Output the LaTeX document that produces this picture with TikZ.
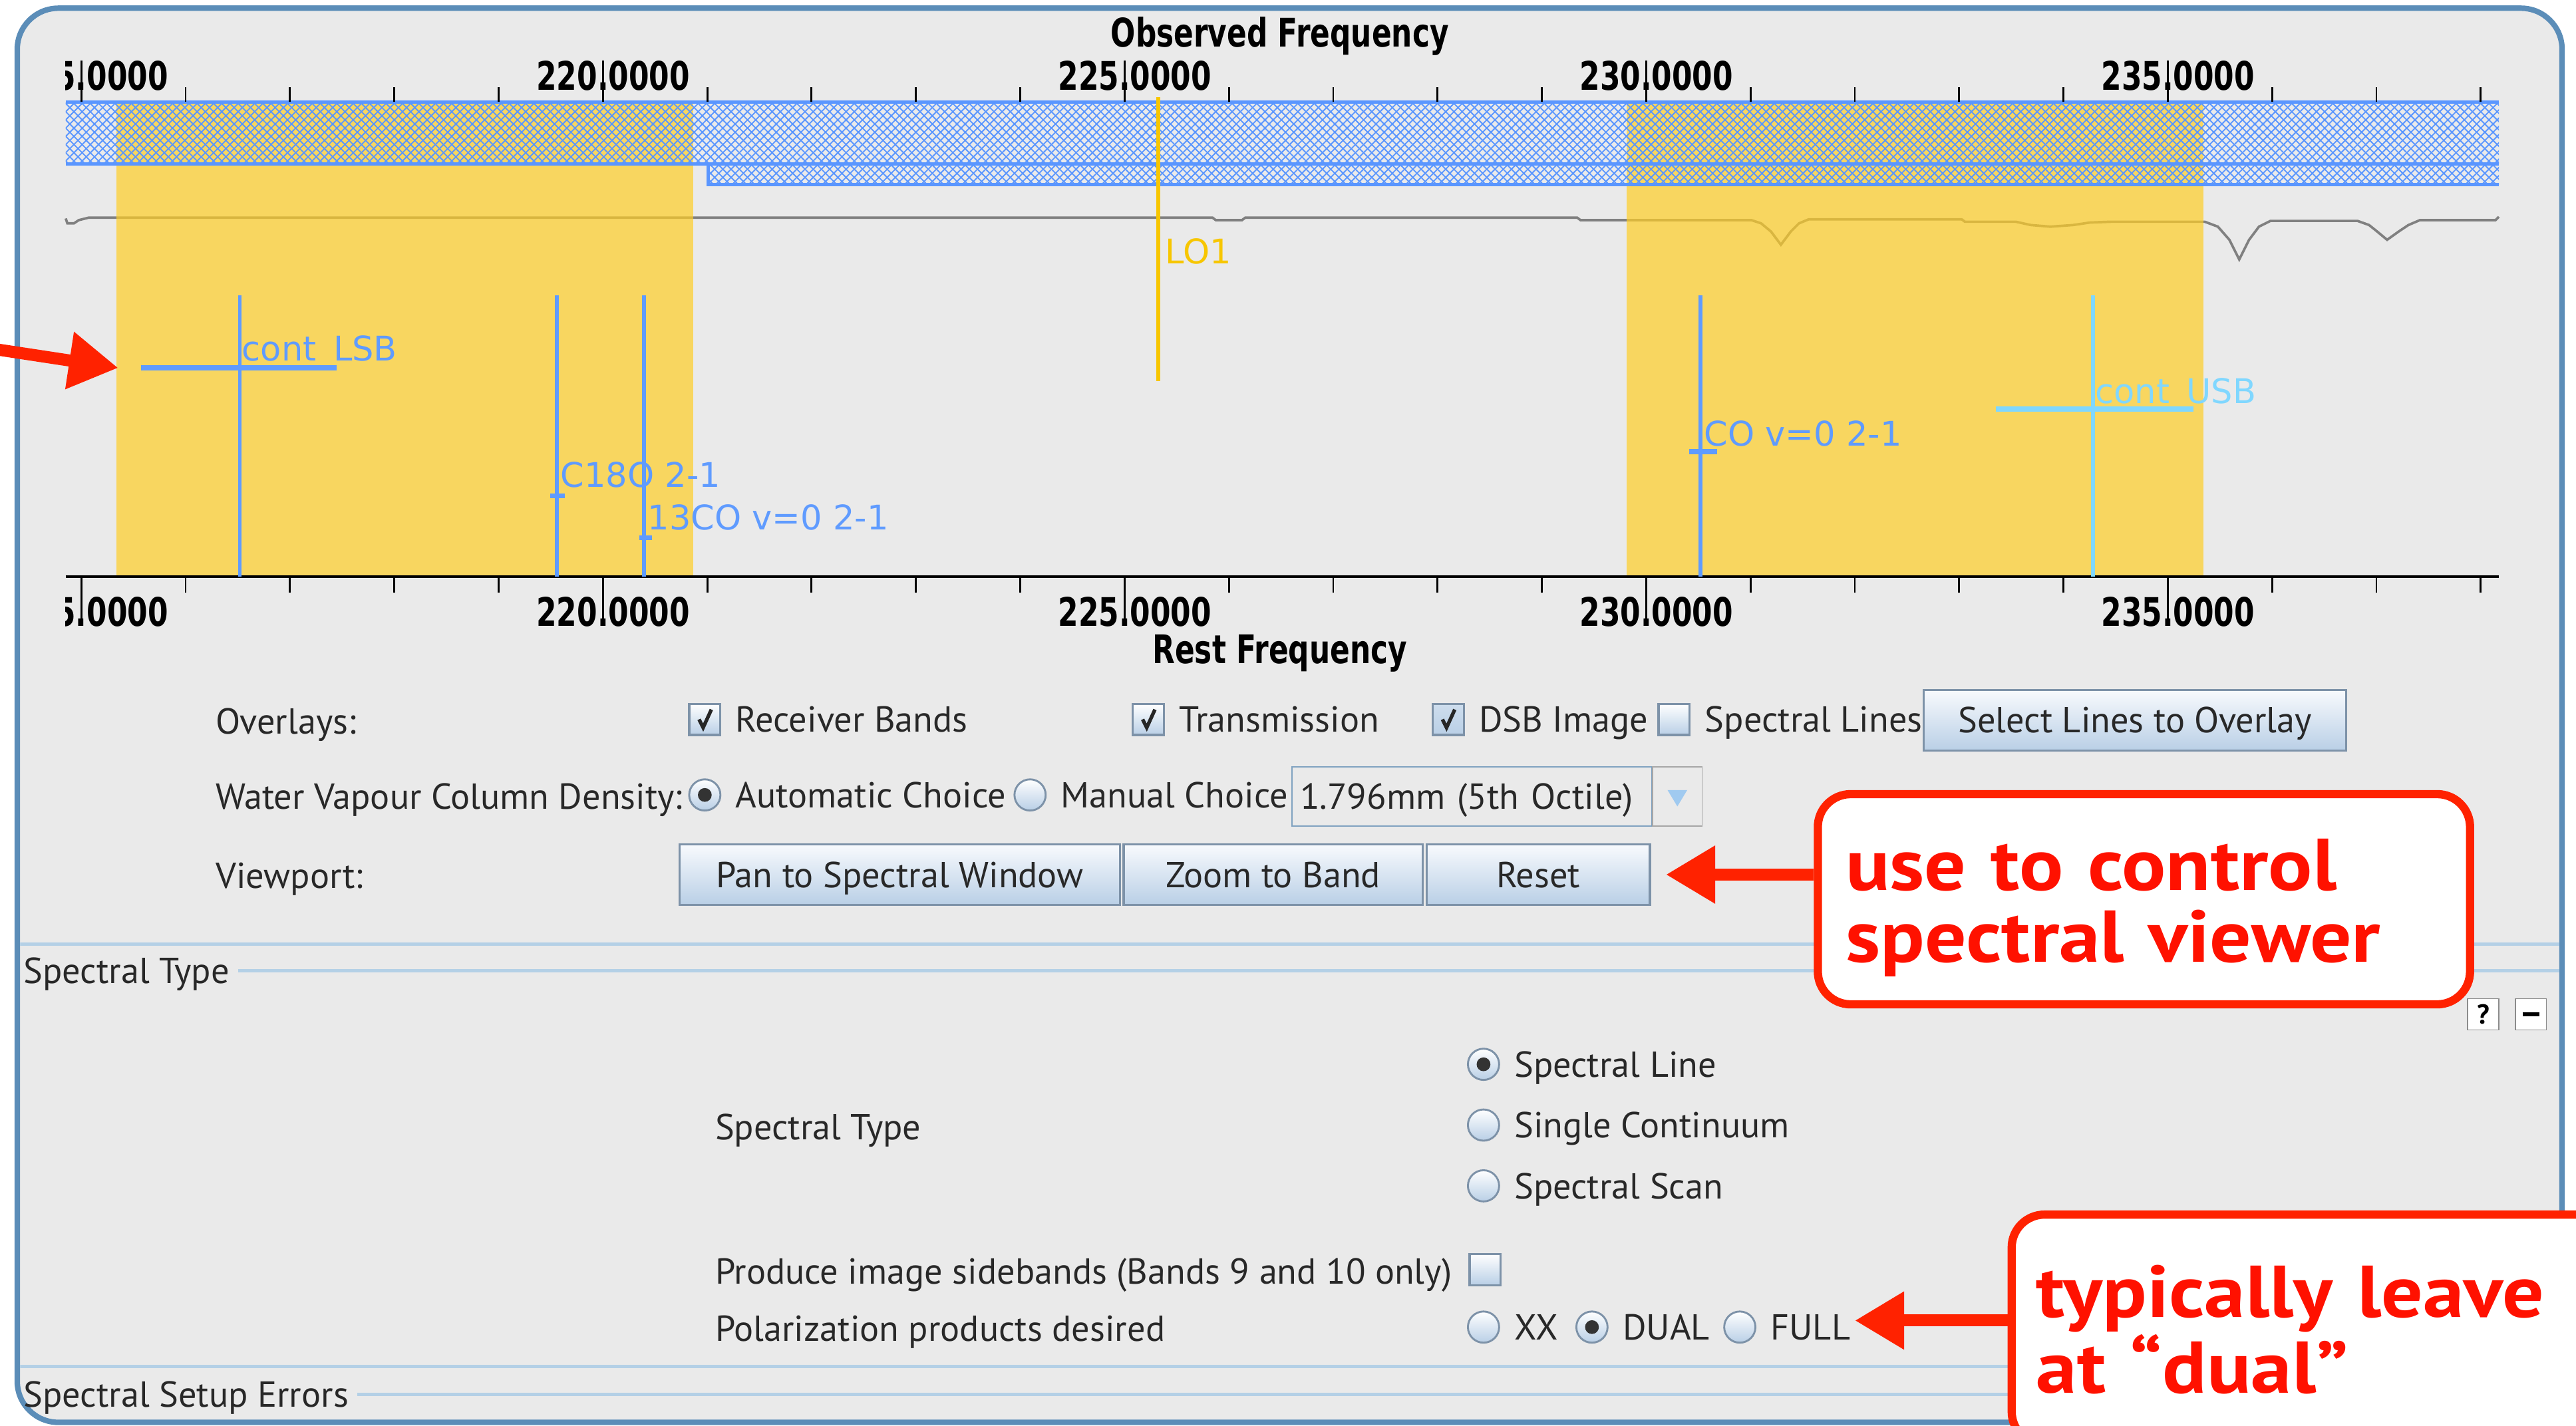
\documentclass[tikz,border=0pt]{standalone}
\usepackage{fontspec}
\setmainfont{PT Sans}
\newfontfamily\axisfont{DejaVu Sans}[FakeStretch=0.74]
\newfontfamily\linefont{DejaVu Sans}
\newfontfamily\notefont{PT Sans}[FakeStretch=1.12]
\usetikzlibrary{arrows.meta,patterns.meta,positioning}

\definecolor{paneGray}{RGB}{234,234,234}
\definecolor{frameBlue}{RGB}{91,141,184}
\definecolor{winYellow}{RGB}{255,206,38}
\definecolor{hatchBlue}{RGB}{90,150,255}
\definecolor{lineBlue}{RGB}{95,155,255}
\definecolor{usbCyan}{RGB}{128,215,255}
\definecolor{loGold}{RGB}{247,198,0}
\definecolor{curveGray}{RGB}{128,128,128}
\definecolor{sepBlue}{RGB}{180,208,230}
\definecolor{btnEdge}{RGB}{125,146,168}
\definecolor{btnTop}{RGB}{248,250,253}
\definecolor{btnBottom}{RGB}{185,207,230}
\definecolor{dropBlue}{RGB}{160,202,240}
\definecolor{noteRed}{RGB}{255,34,0}
\definecolor{noteText}{RGB}{255,17,0}
\definecolor{uiText}{RGB}{40,40,40}

\tikzdeclarepattern{
  name=bandhatch,
  type=uncolored,
  bottom left={(-.3pt,-.3pt)},
  top right={(3.3pt,3.3pt)},
  tile size={(3pt,3pt)},
  code={\draw[line width=.45pt] (0,0) -- (3pt,3pt) (0,3pt) -- (3pt,0);}
}

\tikzset{
  axislabel/.style={font=\axisfont\fontsize{14.4}{16}\selectfont\bfseries, inner sep=0pt, text height=10.5pt, text depth=0pt},
  linelabel/.style={font=\linefont\fontsize{12.4}{14}\selectfont, inner sep=0pt, anchor=west, text height=9pt, text depth=0pt},
  axistick/.style={black, line width=0.7pt},
  specline/.style={draw=lineBlue, line width=1.3pt},
  uitext/.style={font=\fontsize{13.2}{15}\selectfont, text=uiText, inner sep=0pt, anchor=west, text height=9.3pt, text depth=0pt},
  checkbox/.style={rectangle, draw=btnEdge, line width=0.8pt, top color=white, bottom color=btnBottom, minimum size=11.4pt, inner sep=0pt},
  radio/.style={circle, draw=btnEdge, line width=0.7pt, top color=white, bottom color=btnBottom, minimum size=11.4pt, inner sep=0pt},
  checkmark/.style={draw=black!85, line width=1.3pt},
  radiodot/.style={fill=black!80},
  uibutton/.style={rectangle, draw=btnEdge, line width=0.8pt, top color=btnTop, bottom color=btnBottom, inner sep=0pt, minimum height=22.2pt, font=\fontsize{13.2}{15}\selectfont, text=uiText, text height=9.3pt, text depth=0pt},
  smallbtn/.style={rectangle, draw=black!45, fill=white, minimum size=11.4pt, inner sep=0pt, font=\bfseries\fontsize{10}{12}\selectfont},
  sepline/.style={draw=sepBlue, line width=1.2pt},
  noteBox/.style={draw=noteRed, line width=3pt, fill=white, rounded corners=12pt, align=left, text=noteText, inner ysep=0pt, font=\notefont\fontsize{26.8}{26.1}\selectfont\bfseries},
  noteArrow/.style={draw=noteRed, line width=4.4pt, -{Triangle[length=18pt,width=20pt]}}
}

\begin{document}
\begin{tikzpicture}[x=0.6pt,y=0.6pt,yscale=-1]
\useasboundingbox (0,0) rectangle (1568,868);
\fill[white] (0,0) rectangle (1568,868);

% Frame
\draw[frameBlue, line width=2pt, fill=paneGray, rounded corners=15pt] (10.5,5) rectangle (1559.5,866);

% Transmission curve
\draw[curveGray, line width=0.9pt] plot coordinates {(40,133) (41,136) (45,136) (48,134) (54,132.5) (738,132.5) (740,134) (756,134) (758,132.5) (960,132.5) (962,134) (1066,134) (1072,136) (1078,141) (1084,149) (1090,141) (1095,136) (1101,133.5) (1194,133.5) (1196,135) (1227,135) (1236,137) (1248,138) (1262,137) (1272,135.5) (1285,135) (1342,135) (1350,138) (1357,146) (1363,158) (1369,146) (1375,138) (1382,134.5) (1435,134.5) (1442,137) (1447,141) (1453,146) (1460,141) (1466,137) (1473,134) (1519,134) (1521,132)};

% Spectral windows
\fill[winYellow, fill opacity=0.7] (71,62) rectangle (422,351);
\fill[winYellow, fill opacity=0.7] (990,62) rectangle (1341,351);

% Receiver band and image band
\fill[pattern=bandhatch, pattern color=hatchBlue] (40,62) rectangle (1521,100);
\fill[pattern=bandhatch, pattern color=hatchBlue] (431,100) rectangle (1521,112.5);
\draw[hatchBlue, line width=1.2pt] (40,62) -- (1521,62) (40,100) -- (1521,100);
\draw[hatchBlue, line width=1.2pt] (431,100) -- (431,112.5) -- (1521,112.5);

% Axis labels
\begin{scope}
\clip (40,0) rectangle (1530,420);
\foreach \f in {215,220,...,235} {
  \node[axislabel] (obs\f) at ({373.2+63.5*(\f-220)},46) {\f.0000};
  \node[axislabel] (rest\f) at ({373.2+63.5*(\f-220)},372.5) {\f.0000};
}
\end{scope}
\node[axislabel] (obsTitle) at (779,20) {Observed Frequency};
\node[axislabel] (restTitle) at (779,395) {Rest Frequency};

% Ticks
\foreach \f in {215,...,238} {
  \draw[axistick] ({367+63.5*(\f-220)},62) -- ++(0,-9);
  \draw[axistick] ({367+63.5*(\f-220)},352) -- ++(0,9);
}
\foreach \f in {215,220,...,235} {
  \draw[axistick] ({367+63.5*(\f-220)},62) -- ++(0,-25);
  \draw[axistick] ({367+63.5*(\f-220)},352) -- ++(0,27);
}
\draw[black, line width=1pt] (40,351) -- (1521,351);

% Spectral lines
\draw[specline] (146,180) -- (146,351);
\draw[specline, line width=1.8pt] (86,224) -- (205,224);
\node[linelabel, text=lineBlue] (lsbLbl) at (147,212) {cont\_LSB};
\draw[specline] (339,180) -- (339,351);
\draw[specline, line width=1.8pt] (335,302) -- (344,302);
\node[linelabel, text=lineBlue] (c18oLbl) at (341,289) {C18O 2-1};
\draw[specline] (392,180) -- (392,351);
\draw[specline, line width=1.8pt] (389,327.5) -- (397,327.5);
\node[linelabel, text=lineBlue] (co13Lbl) at (394,315) {13CO v=0 2-1};
\draw[specline] (1035,180) -- (1035,351);
\draw[specline, line width=1.8pt] (1028,275) -- (1045,275);
\node[linelabel, text=lineBlue] (coLbl) at (1037,264) {CO v=0 2-1};
\draw[specline, usbCyan] (1274,180) -- (1274,351);
\draw[specline, usbCyan, line width=1.8pt] (1215,249) -- (1335,249);
\node[linelabel, text=usbCyan] (usbLbl) at (1275,238) {cont\_USB};
\draw[loGold, line width=1.5pt] (705,59) -- (705,232);
\node[linelabel, text=loGold] (loLbl) at (709,153) {LO1};

% Overlays row
\node[uitext] (overlaysLbl) at (131,439) {Overlays:};
\node[checkbox] (rcvBox) at (429,438) {};
\node[uitext, right=5pt of rcvBox] (rcvLbl) {Receiver Bands};
\node[checkbox] (transBox) at (699,438) {};
\node[uitext, right=5pt of transBox] (transLbl) {Transmission};
\node[checkbox, top color=btnBottom!70] (dsbBox) at (881.5,438) {};
\node[uitext, right=5pt of dsbBox] (dsbLbl) {DSB Image};
\node[checkbox] (linesBox) at (1019,438) {};
\node[uitext, right=5pt of linesBox] (linesLbl) {Spectral Lines};
\node[uibutton, minimum width=154.2pt] (selectBtn) at (1299.5,438.5) {Select Lines to Overlay};
\foreach \b in {rcvBox,transBox,dsbBox}
  \draw[checkmark] (\b.center) ++(-3.5,0) -- ++(2.5,5) -- ++(5,-11);

% Water vapour row
\node[uitext] (wvLbl) at (131,485) {Water Vapour Column Density:};
\node[radio] (autoRadio) at (429,484) {};
\node[uitext, right=5pt of autoRadio] (autoLbl) {Automatic Choice};
\node[radio] (manRadio) at (627,484) {};
\node[uitext, right=5pt of manRadio] (manLbl) {Manual Choice};
\node[uitext, draw=dropBlue!80!black, fill=paneGray, text width=125.4pt, inner xsep=3pt, minimum height=21.6pt] (wvField) at (786,485) {1.796mm (5th Octile)};
\node[draw=black!35, fill=paneGray, minimum width=18pt, minimum height=21.6pt, inner sep=0pt, right=0pt of wvField] (wvDrop) {};
\fill[dropBlue] (wvDrop.center) ++(-6,-4) -- ++(12,0) -- ++(-6,10) -- cycle;

% Viewport row
\node[uitext] (viewLbl) at (131,533) {Viewport:};
\node[uibutton, minimum width=160.8pt, anchor=west] (panBtn) at (413,532.5) {Pan to Spectral Window};
\node[uibutton, minimum width=109.2pt, right=0.6pt of panBtn] (zoomBtn) {Zoom to Band};
\node[uibutton, minimum width=81.6pt, right=0.6pt of zoomBtn] (resetBtn) {Reset};

% Spectral Type section
\draw[sepline] (12,575) -- (1558,575);
\node[uitext] (specHdr) at (14,591) {Spectral Type};
\draw[sepline] ([xshift=3pt]specHdr.east) -- (1558,591);
\node[smallbtn] (helpBtn) at (1511.5,617.5) {?};
\node[smallbtn] (foldBtn) at (1540.5,617.5) {\rule{6pt}{1.6pt}};
\node[uitext] (specTypeLbl) at (435,686) {Spectral Type};
\node[radio] (lineRadio) at (903,648) {};
\node[uitext, right=5pt of lineRadio] (lineLbl) {Spectral Line};
\node[radio] (contRadio) at (903,685) {};
\node[uitext, right=5pt of contRadio] (contLbl) {Single Continuum};
\node[radio] (scanRadio) at (903,722) {};
\node[uitext, right=5pt of scanRadio] (scanLbl) {Spectral Scan};
\node[uitext] (sideLbl) at (435,774) {Produce image sidebands (Bands 9 and 10 only)};
\node[checkbox] (sideBox) at (904,773) {};
\node[uitext] (polLbl) at (435,809) {Polarization products desired};
\node[radio] (xxRadio) at (903,808) {};
\node[uitext, right=5pt of xxRadio] (xxLbl) {XX};
\node[radio] (dualRadio) at (969,808) {};
\node[uitext, right=5pt of dualRadio] (dualLbl) {DUAL};
\node[radio] (fullRadio) at (1059,808) {};
\node[uitext, right=5pt of fullRadio] (fullLbl) {FULL};
\foreach \r in {autoRadio,lineRadio,dualRadio}
  \fill[radiodot] (\r.center) circle (4.2);

% Spectral Setup Errors section
\draw[sepline] (12,832) -- (1558,832);
\node[uitext] (errHdr) at (14,849) {Spectral Setup Errors};
\draw[sepline] ([xshift=3pt]errHdr.east) -- (1558,849);

% Callouts
\node[noteBox, anchor=north west, minimum width=238.2pt, minimum height=76.8pt, text width=217.8pt, inner xsep=10.2pt] (viewerNote) at (1104,481) {\rule{0pt}{25pt}use to control\\spectral viewer};
\coordinate (resetTip) at ([xshift=5.4pt]resetBtn.east);
\draw[noteArrow] (viewerNote.west |- resetTip) -- (resetTip);

\node[noteBox, anchor=north west, minimum width=250.8pt, minimum height=84pt, text width=232.8pt, inner xsep=9pt] (dualNote) at (1222,737) {typically leave\\at “dual”};
\coordinate (fullTip) at (1129,804);
\draw[noteArrow] (dualNote.west |- fullTip) -- (fullTip);

\coordinate (lsbTail) at (-20,210);
\coordinate (lsbTip) at (72,224);
\draw[noteArrow] (lsbTail) -- (lsbTip);

\end{tikzpicture}
\end{document}
